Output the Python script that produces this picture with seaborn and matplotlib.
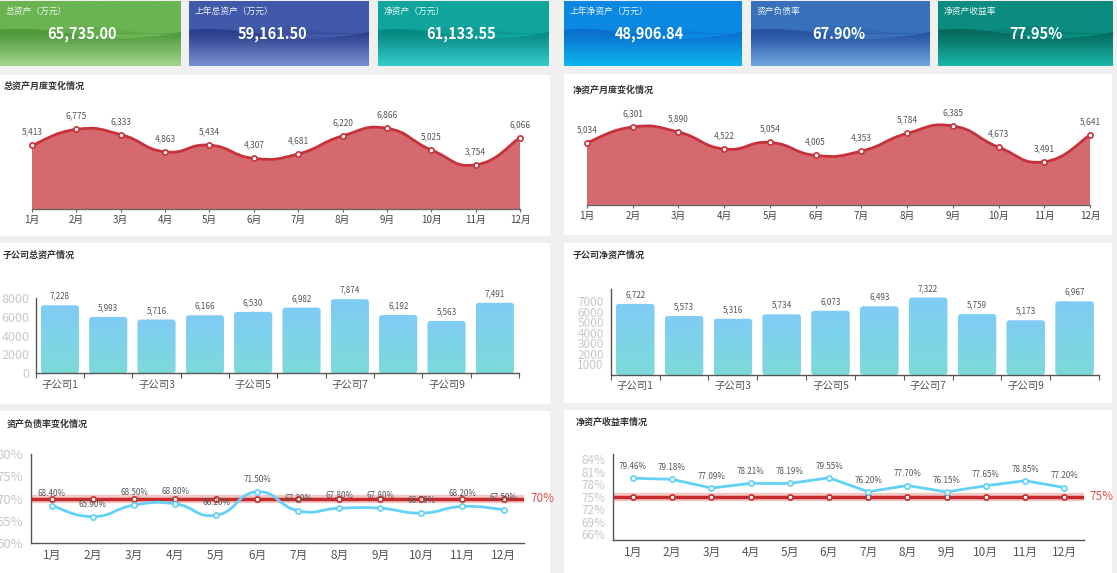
import numpy as np
import matplotlib
matplotlib.use('Agg')
import matplotlib.pyplot as plt
import seaborn as sns
from matplotlib.path import Path
from matplotlib.patches import PathPatch, Rectangle, FancyBboxPatch
from matplotlib.colors import LinearSegmentedColormap, to_rgb

# ---- data ----
kpi_names = ['总资产（万元）', '上年总资产（万元）', '净资产（万元）',
             '上年净资产（万元）', '资产负债率', '净资产收益率']
kpi_values = ['65,735.00', '59,161.50', '61,133.55', '48,906.84', '67.90%', '77.95%']

months = ['1月', '2月', '3月', '4月', '5月', '6月',
          '7月', '8月', '9月', '10月', '11月', '12月']
total_assets = [5413, 6775, 6333, 4863, 5434, 4307, 4681, 6220, 6866, 5025, 3754, 6066]
net_assets = [5034, 6301, 5890, 4522, 5054, 4005, 4353, 5784, 6385, 4673, 3491, 5641]

subsidiaries = ['子公司1', '子公司2', '子公司3', '子公司4', '子公司5',
                '子公司6', '子公司7', '子公司8', '子公司9', '子公司10']
sub_total_assets = [7228, 5993, 5716, 6166, 6530, 6982, 7874, 6192, 5563, 7491]
sub_net_assets = [6722, 5573, 5316, 5734, 6073, 6493, 7322, 5759, 5173, 6967]

debt_ratio = [68.40, 65.90, 68.50, 68.80, 66.20, 71.50, 67.20, 67.80, 67.80, 66.70, 68.20, 67.50]
debt_limit = 70
roe = [79.46, 79.18, 77.09, 78.21, 78.19, 79.55, 76.20, 77.70, 76.15, 77.65, 78.85, 77.20]
roe_limit = 75

RED = '#c8313a'
BLUE = '#63d1f7'
GREY_TXT = '#555555'

sns.set_theme(style='white')
plt.rcParams['font.family'] = ['Noto Sans CJK SC', 'DejaVu Sans']
plt.rcParams['axes.unicode_minus'] = False

W, H = 1117, 573
fig = plt.figure(figsize=(W / 100, H / 100), dpi=100)
fig.patch.set_facecolor('#f0f0f0')


def px_axes(x0, y0, x1, y1):
    ax = fig.add_axes([x0 / W, 1 - y1 / H, (x1 - x0) / W, (y1 - y0) / H])
    ax.set_facecolor('none')
    return ax


def px_text(x, y, s, **kw):
    fig.text(x / W, 1 - y / H, s, **kw)


def panel(x0, y0, x1, y1):
    fig.add_artist(Rectangle((x0 / W, 1 - y1 / H), (x1 - x0) / W, (y1 - y0) / H,
                             transform=fig.transFigure, facecolor='white',
                             edgecolor='none', zorder=-5))


def smooth_path(xs, ys, k=0.25):
    # cubic bezier through the points (echarts style smooth line)
    n = len(xs)
    verts = [(xs[0], ys[0])]
    codes = [Path.MOVETO]
    for i in range(n - 1):
        a = i - 1 if i > 0 else i
        b = i + 2 if i + 2 < n else i + 1
        c1 = (xs[i] + (xs[i + 1] - xs[a]) * k, ys[i] + (ys[i + 1] - ys[a]) * k)
        c2 = (xs[i + 1] - (xs[b] - xs[i]) * k, ys[i + 1] - (ys[b] - ys[i]) * k)
        verts += [c1, c2, (xs[i + 1], ys[i + 1])]
        codes += [Path.CURVE4] * 3
    return verts, codes


def mix(c1, c2, t):
    a, b = np.array(to_rgb(c1)), np.array(to_rgb(c2))
    return a + (b - a) * t


# ---- KPI cards ----
card_boxes = [(0, 1, 181, 66), (189, 1, 369, 66), (378, 1, 549, 66),
              (564, 1, 742, 66), (751, 1, 930, 66), (938, 1, 1113, 66)]
card_colors = [('#6ab452', '#4d9a3d', '#a2d68c'),
               ('#4259a9', '#2b3f8e', '#7a90d2'),
               ('#10a59c', '#078a83', '#33ccca'),
               ('#0b88e2', '#0a70cf', '#0cb6f0'),
               ('#3871ba', '#2552a2', '#6fa6dc'),
               ('#0a8c80', '#066a5e', '#19b6aa')]
value_x = [82, 272, 461, 649, 839, 1036]

for box, (top, wave, bottom), name, val, vx in zip(card_boxes, card_colors, kpi_names,
                                                   kpi_values, value_x):
    ax = px_axes(*box)
    ax.axis('off')
    rows = []
    for yy in np.linspace(1, 0, 120):
        if yy > 0.5:
            rows.append(to_rgb(top))
        else:
            rows.append(mix(wave, bottom, (0.5 - yy) / 0.5))
    img = np.array(rows).reshape(-1, 1, 3)
    ax.imshow(img, extent=[0, 1, 0, 1], aspect='auto', origin='upper')
    xx = np.linspace(0, 1, 200)
    w1 = 0.5 + 0.07 * np.sin(2 * np.pi * (xx * 0.9 + 0.15))
    ax.fill_between(xx, 0.5, w1, where=w1 >= 0.5, color=wave, lw=0, interpolate=True)
    ax.fill_between(xx, w1, 0.5, where=w1 < 0.5, color=top, lw=0, interpolate=True)
    w2 = 0.56 + 0.06 * np.sin(2 * np.pi * (xx * 1.3 + 0.6))
    ax.fill_between(xx, 0.5, w2, color=wave, alpha=0.25, lw=0)
    ax.set_xlim(0, 1)
    ax.set_ylim(0, 1)
    px_text(box[0] + 6, 11, name, color='white', fontsize=6.3, va='center', ha='left',
            alpha=0.92)
    px_text(vx, 34.3, val, color='white', fontsize=10.5, fontweight='bold',
            ha='center', va='center')

# ---- panels ----
panel(0, 75, 550, 236)
panel(564, 74, 1112, 235)
panel(0, 243, 550, 404)
panel(564, 243, 1112, 403)
panel(0, 411, 550, 573)
panel(564, 410, 1112, 573)

title_kw = dict(fontsize=6.5, fontweight='bold', color='#333333', va='center', ha='left')
px_text(4, 86, '总资产月度变化情况', **title_kw)
px_text(573, 90, '净资产月度变化情况', **title_kw)
px_text(3, 255, '子公司总资产情况', **title_kw)
px_text(573, 255, '子公司净资产情况', **title_kw)
px_text(7, 424, '资产负债率变化情况', **title_kw)
px_text(576, 422, '净资产收益率情况', **title_kw)


# ---- monthly area charts ----
def area_chart(box, values, ymax):
    ax = px_axes(*box)
    xs = np.arange(len(values))
    verts, codes = smooth_path(xs, values)
    fv = verts + [(xs[-1], 0), (xs[0], 0), (xs[0], values[0])]
    fc = codes + [Path.LINETO, Path.LINETO, Path.CLOSEPOLY]
    ax.add_patch(PathPatch(Path(fv, fc), facecolor='#d46a6f', edgecolor='none', zorder=1))
    ax.add_patch(PathPatch(Path(verts, codes), facecolor='none', edgecolor=RED,
                           lw=2, zorder=2))
    sns.scatterplot(x=xs, y=values, ax=ax, s=14, color='white', edgecolor=RED,
                    linewidth=1.2, zorder=3, clip_on=False, legend=False)
    for x, v in zip(xs, values):
        ax.annotate(f'{v:,}', (x, v), xytext=(0, 9.5), textcoords='offset points',
                    ha='center', va='center', fontsize=6, color=GREY_TXT)
    ax.set_xlim(0, len(values) - 1)
    ax.set_ylim(0, ymax)
    ax.set_xticks(xs)
    ax.set_xticklabels(months)
    ax.set_yticks([])
    for s in ['top', 'right', 'left']:
        ax.spines[s].set_visible(False)
    ax.spines['bottom'].set_color('#666666')
    ax.spines['bottom'].set_linewidth(1)
    ax.tick_params(axis='x', bottom=True, length=2.5, width=0.8, color='#666666',
                   labelsize=7, labelcolor='#444444', pad=1.5)
    ax.set_xlabel('')
    ax.set_ylabel('')


area_chart((32, 103.2, 520, 209), total_assets, 9000)
area_chart((587, 93.6, 1090, 205), net_assets, 9000)


# ---- subsidiary bar charts ----
def bar_chart(box, values, ymax, yticks, ylabelsize, ypad):
    ax = px_axes(*box)
    sns.barplot(x=subsidiaries, y=values, ax=ax, width=0.79, color='#7ecbf5',
                saturation=1, zorder=2)
    n = len(values)
    xpp = n / (box[2] - box[0])
    ypp = ymax / (box[3] - box[1])
    cmap = LinearSegmentedColormap.from_list('bar', ['#7cdad9', '#80ccf6'])
    grad = np.linspace(0, 1, 128).reshape(-1, 1)
    for p, v in zip(list(ax.patches), values):
        bx, w, h = p.get_x(), p.get_width(), p.get_height()
        p.set_visible(False)
        rb = FancyBboxPatch((bx, 0), w, h, boxstyle=f'round,pad=0,rounding_size={3 * xpp}',
                            mutation_aspect=ypp / xpp, facecolor='none', edgecolor='none')
        ax.add_patch(rb)
        im = ax.imshow(grad, extent=[bx, bx + w, 0, h], origin='lower', aspect='auto',
                       cmap=cmap, zorder=2)
        im.set_clip_path(rb)
        ax.annotate(f'{v:,}', (bx + w / 2, h), xytext=(0, 6.5), textcoords='offset points',
                    ha='center', va='center', fontsize=5.8, color=GREY_TXT)
    ax.set_xlim(-0.5, n - 0.5)
    ax.set_ylim(0, ymax)
    ax.set_yticks(yticks)
    ax.set_yticklabels([str(t) for t in yticks])
    ax.set_xticks(range(0, n, 2))
    ax.set_xticklabels(subsidiaries[::2])
    ax.set_xticks(np.arange(-0.5, n, 1), minor=True)
    for s in ['top', 'right']:
        ax.spines[s].set_visible(False)
    for s in ['left', 'bottom']:
        ax.spines[s].set_color('#555555')
        ax.spines[s].set_linewidth(1)
    ax.tick_params(axis='y', left=False, length=0, labelsize=ylabelsize,
                   labelcolor='#c8c8c8', pad=ypad)
    ax.tick_params(axis='x', which='major', bottom=False, length=0, labelsize=7.5,
                   labelcolor=GREY_TXT, pad=4.5)
    ax.tick_params(axis='x', which='minor', bottom=True, length=3.5, width=0.8,
                   color='#555555')
    ax.set_xlabel('')
    ax.set_ylabel('')


bar_chart((35.7, 298, 519, 373.3), sub_total_assets, 8000, [0, 2000, 4000, 6000, 8000],
          9, 4.5)
bar_chart((610.8, 289.3, 1099, 375), sub_net_assets, 8100,
          [1000, 2000, 3000, 4000, 5000, 6000, 7000], 8.5, 5)


# ---- ratio line charts ----
def ratio_chart(box, values, ylim, yticks, limit, smooth, ylabelsize, ypad, label_off,
                limit_xy):
    ax = px_axes(*box)
    xs = np.arange(len(values))
    ax.axhline(limit, color='#e06060', lw=6, alpha=0.35, zorder=1)
    ax.axhline(limit, color='#c62a2a', lw=2.5, zorder=2)
    sns.scatterplot(x=xs, y=[limit] * len(xs), ax=ax, s=14, color='white',
                    edgecolor='#c62a2a', linewidth=1.2, zorder=3, legend=False)
    if smooth:
        verts, codes = smooth_path(xs, values)
        ax.add_patch(PathPatch(Path(verts, codes), facecolor='none', edgecolor=BLUE,
                               lw=2, zorder=4))
    else:
        sns.lineplot(x=xs, y=values, ax=ax, color=BLUE, lw=2, zorder=4)
    sns.scatterplot(x=xs, y=values, ax=ax, s=14, color='white', edgecolor=BLUE,
                    linewidth=1.2, zorder=5, legend=False)
    for x, v in zip(xs, values):
        ax.annotate(f'{v:.2f}%', (x, v), xytext=(0, label_off), textcoords='offset points',
                    ha='center', va='center', fontsize=5.8, color=GREY_TXT, zorder=6)
    ax.set_xlim(-0.5, len(values) - 0.5)
    ax.set_ylim(*ylim)
    ax.set_yticks(yticks)
    ax.set_yticklabels([f'{t}%' for t in yticks])
    ax.set_xticks(xs)
    ax.set_xticklabels(months)
    for s in ['top', 'right']:
        ax.spines[s].set_visible(False)
    for s in ['left', 'bottom']:
        ax.spines[s].set_color('#555555')
        ax.spines[s].set_linewidth(1)
    ax.tick_params(axis='y', left=False, length=0, labelsize=ylabelsize,
                   labelcolor='#c8c8c8', pad=ypad)
    ax.tick_params(axis='x', bottom=False, length=0, labelsize=8.5, labelcolor=GREY_TXT,
                   pad=4.5)
    ax.set_xlabel('')
    ax.set_ylabel('')
    px_text(limit_xy[0], limit_xy[1], f'{limit}%', color='#d9534f', fontsize=8.5,
            ha='left', va='center')


ratio_chart((31.3, 454.3, 524.1, 542.7), debt_ratio, (60, 80), [60, 65, 70, 75, 80],
            debt_limit, True, 9.5, 6, 9, (530, 499))
ratio_chart((613.2, 454.3, 1084, 540), roe, (64.6, 85.2), [66, 69, 72, 75, 78, 81, 84],
            roe_limit, False, 8.5, 5.4, 8.4, (1089, 497))

fig.savefig('out.png', dpi=100)
